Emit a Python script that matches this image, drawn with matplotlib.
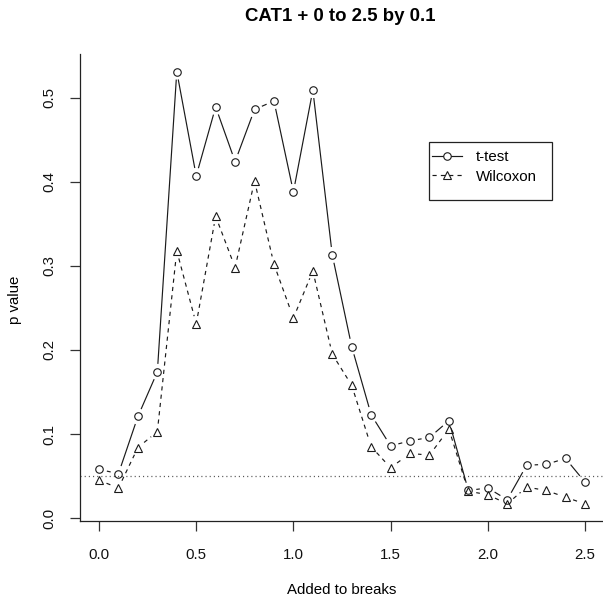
import numpy as np
import matplotlib
matplotlib.use("Agg")
import matplotlib.pyplot as plt
from matplotlib.lines import Line2D
from matplotlib.patches import Rectangle

plt.rcParams['font.family'] = ['Liberation Sans', 'DejaVu Sans']
plt.rcParams['lines.scale_dashes'] = False

added = [0.0, 0.1, 0.2, 0.3, 0.4, 0.5, 0.6, 0.7, 0.8, 0.9, 1.0, 1.1, 1.2,
         1.3, 1.4, 1.5, 1.6, 1.7, 1.8, 1.9, 2.0, 2.1, 2.2, 2.3, 2.4, 2.5]
ttest = [0.058, 0.053, 0.121, 0.174, 0.531, 0.407, 0.489, 0.424, 0.486, 0.496,
         0.388, 0.509, 0.313, 0.204, 0.123, 0.086, 0.092, 0.096, 0.116, 0.033,
         0.036, 0.022, 0.063, 0.064, 0.071, 0.043]
wilcoxon = [0.045, 0.036, 0.084, 0.103, 0.318, 0.231, 0.359, 0.298, 0.401, 0.302,
            0.238, 0.294, 0.195, 0.158, 0.085, 0.060, 0.077, 0.075, 0.106, 0.032,
            0.028, 0.017, 0.037, 0.033, 0.025, 0.017]
threshold = 0.05
xticks = [0.0, 0.5, 1.0, 1.5, 2.0, 2.5]
yticks = [0.0, 0.1, 0.2, 0.3, 0.4, 0.5]

W = H = 603
fig = plt.figure(figsize=(6.03, 6.03), dpi=100)
ax = fig.add_axes([79.6 / W, 1 - 521.2 / H, (604.4 - 79.6) / W, (521.2 - 54.3) / H])

xr = max(added) - min(added)
allv = ttest + wilcoxon
yr = max(allv) - min(allv)
ax.set_xlim(min(added) - 0.04 * xr, max(added) + 0.04 * xr)
ax.set_ylim(min(allv) - 0.04 * yr, max(allv) + 0.04 * yr)

for s in ['top', 'right']:
    ax.spines[s].set_visible(False)
for s in ['left', 'bottom']:
    ax.spines[s].set_linewidth(0.9)
    ax.spines[s].set_color('#222222')

ax.set_xticks(xticks)
ax.set_xticklabels([f"{v:.1f}" for v in xticks])
ax.set_yticks(yticks)
ax.set_yticklabels([f"{v:.1f}" for v in yticks])
ax.tick_params(axis='both', direction='out', length=7, width=0.9, color='#333333',
               labelsize=10.8, labelcolor='#111111')
ax.tick_params(axis='x', pad=12)
ax.tick_params(axis='y', pad=10, labelrotation=90)
for lab in ax.get_yticklabels():
    lab.set_va('center')

# reference line
ax.axhline(threshold, color='#555555', linewidth=0.9, linestyle=(0, (0.8, 2.2)))

GAP = 8.0  # pixels
LC = '#1a1a1a'


def draw_b(xs, ys, ls, marker, ms):
    pts = ax.transData.transform(np.column_stack([xs, ys]))
    inv = ax.transData.inverted()
    for p0, p1 in zip(pts[:-1], pts[1:]):
        d = p1 - p0
        L = np.hypot(*d)
        if L <= 2 * GAP:
            continue
        u = d / L
        a = inv.transform(p0 + u * GAP)
        b = inv.transform(p1 - u * GAP)
        ax.plot([a[0], b[0]], [a[1], b[1]], color=LC, linewidth=0.85,
                linestyle=ls, solid_capstyle='butt', dash_capstyle='butt')
    ax.plot(xs, ys, linestyle='none', marker=marker, markersize=ms,
            markerfacecolor='none', markeredgecolor=LC, markeredgewidth=0.8)


draw_b(added, ttest, '-', 'o', 5.4)
draw_b(added, wilcoxon, (0, (3, 3)), '^', 6.4)

# legend
h1 = Line2D([], [], color=LC, linewidth=0.85, linestyle='-', marker='o',
            markersize=5.4, markerfacecolor='white', markeredgecolor=LC,
            markeredgewidth=0.8)
h2 = Line2D([], [], color=LC, linewidth=0.85, linestyle=(0, (3, 3)), marker='^',
            markersize=6.4, markerfacecolor='white', markeredgecolor=LC,
            markeredgewidth=0.8)
leg = fig.legend([h1, h2], ['t-test', 'Wilcoxon'], loc='upper left',
                 bbox_to_anchor=(432 / W, 1 - 150 / H), frameon=False,
                 fontsize=10.8, handlelength=2.0, handletextpad=0.95,
                 labelspacing=0.38, borderpad=0.0, borderaxespad=0.0)
fig.add_artist(Rectangle((429.3 / W, 1 - 200 / H), (551.7 - 429.3) / W, (200 - 141.7) / H,
                         transform=fig.transFigure, fill=False, edgecolor='#222222',
                         linewidth=0.9))

fig.text(340 / W, 1 - 16.5 / H, 'CAT1 + 0 to 2.5 by 0.1', ha='center', va='center',
         fontsize=13.4, fontweight='bold')
fig.text(342 / W, 1 - 590 / H, 'Added to breaks', ha='center', va='center', fontsize=10.8)
fig.text(15 / W, 1 - 300 / H, 'p value', ha='center', va='center', rotation=90,
         fontsize=10.8)

fig.savefig('out.png', dpi=100)
